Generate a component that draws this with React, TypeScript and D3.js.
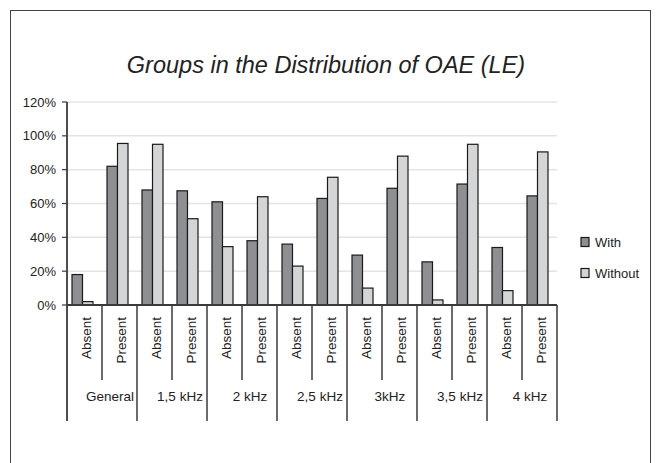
import React, { useEffect, useRef } from "react";
import * as d3 from "d3";

// chart values
const groups = ["General", "1,5 kHz", "2 kHz", "2,5 kHz", "3kHz", "3,5 kHz", "4 kHz"];
const subCategories = ["Absent", "Present"];
const seriesNames = ["With", "Without"];
const withValues = [18, 82, 68, 67.5, 61, 38, 36, 63, 29.5, 69, 25.5, 71.5, 34, 64.5];
const withoutValues = [2, 95.5, 95, 51, 34.5, 64, 23, 75.5, 10, 88, 3, 95, 8.5, 90.5];
const yTicks = [0, 20, 40, 60, 80, 100, 120];

function App() {
    const svgRef = useRef<SVGSVGElement>(null);

    let width = 657;
    let height = 463;
    let plot = { left: 67, right: 557, top: 102, bottom: 305 };
    let font = "'Liberation Sans', Arial, sans-serif";

    let withColor = "#8e8f93";
    let withoutColor = "#d4d5d7";
    let gridColor = "#e4e4e4";
    let axisColor = "#3a3a3a";
    let textColor = "#222";

    useEffect(() => {
        let svg = d3.select(svgRef.current);
        svg.selectAll("*").remove();

        // categories: each group x sub category
        let categories: { group: string; sub: string; i: number }[] = [];
        groups.forEach((g) => {
            subCategories.forEach((s) => {
                categories.push({ group: g, sub: s, i: categories.length });
            });
        });

        let xScale = d3
            .scaleBand<number>()
            .domain(categories.map((c) => c.i))
            .range([plot.left, plot.right])
            .paddingInner(0.4)
            .paddingOuter(0.2);
        let step = xScale.step();

        let xSeries = d3
            .scaleBand<string>()
            .domain(seriesNames)
            .range([0, xScale.bandwidth()]);

        let yScale = d3
            .scaleLinear()
            .domain([0, 120])
            .range([plot.bottom, plot.top]);

        // outer frame
        svg.append("rect")
            .attr("x", 10.5)
            .attr("y", 10.5)
            .attr("width", 640)
            .attr("height", 480)
            .style("fill", "white")
            .style("stroke", "#444")
            .style("stroke-width", 1);

        // title
        svg.append("text")
            .attr("x", 326)
            .attr("y", 73)
            .attr("text-anchor", "middle")
            .style("font-family", font)
            .style("font-style", "italic")
            .style("font-size", "23.5px")
            .style("fill", textColor)
            .text("Groups in the Distribution of OAE (LE)");

        // grid lines
        svg.selectAll(".grid")
            .data(yTicks.filter((t) => t > 0))
            .enter()
            .append("line")
            .attr("x1", plot.left)
            .attr("x2", plot.right)
            .attr("y1", (d) => yScale(d))
            .attr("y2", (d) => yScale(d))
            .style("stroke", gridColor)
            .style("stroke-width", 1.5);

        // y tick labels and ticks
        svg.selectAll(".ytick")
            .data(yTicks)
            .enter()
            .append("line")
            .attr("x1", plot.left - 5)
            .attr("x2", plot.left)
            .attr("y1", (d) => yScale(d))
            .attr("y2", (d) => yScale(d))
            .style("stroke", axisColor)
            .style("stroke-width", 1.2);

        svg.selectAll(".ylabel")
            .data(yTicks)
            .enter()
            .append("text")
            .attr("x", plot.left - 11)
            .attr("y", (d) => yScale(d))
            .attr("dy", "0.35em")
            .attr("text-anchor", "end")
            .style("font-family", font)
            .style("font-size", "13px")
            .style("fill", textColor)
            .text((d) => d + "%");

        // bars
        let barShift = -2;
        let values: { [k: string]: number[] } = { With: withValues, Without: withoutValues };
        let colors: { [k: string]: string } = { With: withColor, Without: withoutColor };

        seriesNames.forEach((name) => {
            svg.selectAll(".bar-" + name)
                .data(values[name])
                .enter()
                .append("rect")
                .attr("x", (d, i) => (xScale(i) as number) + (xSeries(name) as number) + barShift)
                .attr("y", (d) => yScale(d))
                .attr("width", xSeries.bandwidth())
                .attr("height", (d) => yScale(0) - yScale(d))
                .style("fill", colors[name])
                .style("stroke", "#1a1a1a")
                .style("stroke-width", 1.2);
        });

        // axes
        let subBottom = plot.bottom + 75;
        let groupBottom = plot.bottom + 116;

        svg.append("line")
            .attr("x1", plot.left)
            .attr("x2", plot.left)
            .attr("y1", plot.top)
            .attr("y2", groupBottom)
            .style("stroke", axisColor)
            .style("stroke-width", 1.8);

        svg.append("line")
            .attr("x1", plot.left)
            .attr("x2", plot.right)
            .attr("y1", plot.bottom)
            .attr("y2", plot.bottom)
            .style("stroke", axisColor)
            .style("stroke-width", 1.8);

        // category boundaries
        let boundaries = d3.range(1, categories.length + 1);
        svg.selectAll(".xtick")
            .data(boundaries)
            .enter()
            .append("line")
            .attr("x1", (d) => plot.left + d * step)
            .attr("x2", (d) => plot.left + d * step)
            .attr("y1", plot.bottom)
            .attr("y2", (d) => (d % subCategories.length === 0 ? groupBottom : subBottom))
            .style("stroke", axisColor)
            .style("stroke-width", 1.5);

        // sub category labels (rotated)
        svg.selectAll(".sublabel")
            .data(categories)
            .enter()
            .append("text")
            .attr(
                "transform",
                (d) =>
                    "translate(" +
                    (plot.left + (d.i + 0.5) * step + 2) +
                    "," +
                    (plot.bottom + 12) +
                    ") rotate(-90)"
            )
            .attr("text-anchor", "end")
            .attr("dy", "0.35em")
            .style("font-family", font)
            .style("font-size", "13.5px")
            .style("fill", textColor)
            .text((d) => d.sub);

        // group labels
        svg.selectAll(".grouplabel")
            .data(groups)
            .enter()
            .append("text")
            .attr("x", (d, i) => plot.left + (i + 0.5) * step * subCategories.length + 8)
            .attr("y", plot.bottom + 91)
            .attr("dy", "0.35em")
            .attr("text-anchor", "middle")
            .style("font-family", font)
            .style("font-size", "13.5px")
            .style("fill", textColor)
            .text((d) => d);

        // legend
        let legend = svg
            .selectAll(".legend")
            .data(seriesNames)
            .enter()
            .append("g")
            .attr("transform", (d, i) => "translate(581," + (242 + i * 31) + ")");

        legend
            .append("rect")
            .attr("x", 0)
            .attr("y", -4.5)
            .attr("width", 8)
            .attr("height", 9)
            .style("fill", (d) => colors[d])
            .style("stroke", "#1a1a1a")
            .style("stroke-width", 1.2);

        legend
            .append("text")
            .attr("x", 14)
            .attr("y", 0)
            .attr("dy", "0.35em")
            .style("font-family", font)
            .style("font-size", "13px")
            .style("fill", textColor)
            .text((d) => d);
    }, []);

    return (
        <svg
            ref={svgRef}
            width={width}
            height={height}
            style={{ position: "absolute", left: 0, top: 0, background: "white" }}
        ></svg>
    );
}

export default App;
